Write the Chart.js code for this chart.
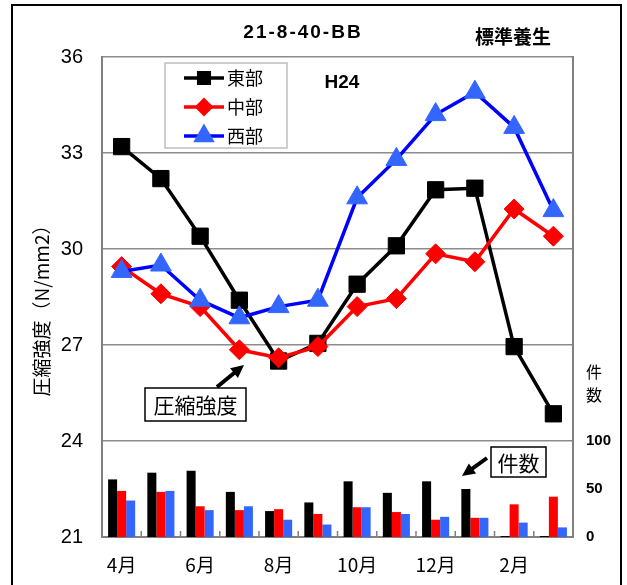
<!DOCTYPE html>
<html lang="ja">
<head>
<meta charset="UTF-8">
<title>21-8-40-BB 標準養生</title>
<script src="https://cdn.jsdelivr.net/npm/chart.js"></script>
<style>
  html, body { margin: 0; padding: 0; background: #fff; }
</style>
</head>
<body>
<canvas id="myChart" width="627" height="585"></canvas>
<script>
// 月別データ (H24)
const months = ['4月', '5月', '6月', '7月', '8月', '9月', '10月', '11月', '12月', '1月', '2月', '3月'];

// 圧縮強度 (N/mm2)
const eastStrength    = [33.2, 32.2, 30.4, 28.4, 26.5, 27.05, 28.9, 30.1, 31.85, 31.9, 26.95, 24.85];
const centralStrength = [29.45, 28.6, 28.2, 26.85, 26.6, 26.95, 28.2, 28.45, 29.85, 29.6, 31.25, 30.4];
const westStrength    = [29.3, 29.5, 28.4, 27.85, 28.2, 28.4, 31.6, 32.8, 34.2, 34.9, 33.8, 31.2];

// 件数
const eastCount    = [60, 67, 69, 47, 27, 36, 58, 46, 58, 50, 1, 1];
const centralCount = [48, 47, 32, 28, 29, 24, 31, 26, 18, 20, 34, 42];
const westCount    = [38, 48, 28, 32, 18, 13, 31, 24, 21, 20, 15, 10];

const strengthTicks = [21, 24, 27, 30, 33, 36];
const countTicks = [0, 50, 100];

const JP = '"Noto Sans CJK JP", "Noto Sans", sans-serif';
const LAT = '"Liberation Sans", Arial, sans-serif';

const BLACK = '#000000';
const RED = '#ff0000';
const BLUE_LINE = '#0000ff';
const BLUE_MARK = '#3366ff';

function arrow(ctx, x1, y1, x2, y2) {
    const ang = Math.atan2(y2 - y1, x2 - x1);
    const head = 11;
    ctx.beginPath();
    ctx.moveTo(x1, y1);
    ctx.lineTo(x2 - Math.cos(ang) * head * 0.8, y2 - Math.sin(ang) * head * 0.8);
    ctx.lineWidth = 4;
    ctx.strokeStyle = '#000';
    ctx.stroke();
    ctx.beginPath();
    ctx.moveTo(x2, y2);
    ctx.lineTo(x2 - Math.cos(ang - 0.45) * head * 1.3, y2 - Math.sin(ang - 0.45) * head * 1.3);
    ctx.lineTo(x2 - Math.cos(ang + 0.45) * head * 1.3, y2 - Math.sin(ang + 0.45) * head * 1.3);
    ctx.closePath();
    ctx.fillStyle = '#000';
    ctx.fill();
}

function labelBox(ctx, text, x, y, w, h) {
    ctx.fillStyle = '#fff';
    ctx.fillRect(x, y, w, h);
    ctx.strokeStyle = '#000';
    ctx.lineWidth = 1.5;
    ctx.strokeRect(x, y, w, h);
    ctx.fillStyle = '#000';
    ctx.textAlign = 'center';
    ctx.font = '21px ' + JP;
    ctx.fillText(text, x + w / 2, y + h / 2 + 1);
}

const decorations = {
    id: 'decorations',
    beforeDraw(chart) {
        const ctx = chart.ctx;
        ctx.save();
        ctx.fillStyle = '#fff';
        ctx.fillRect(0, 0, chart.width, chart.height);
        ctx.strokeStyle = '#000';
        ctx.lineWidth = 2;
        ctx.strokeRect(12, 5, 609, 640);
        ctx.restore();
    },
    afterDraw(chart) {
        const ctx = chart.ctx;
        const xs = chart.scales.x;
        const area = chart.chartArea;
        ctx.save();

        // 内向きの目盛り
        ctx.strokeStyle = '#808080';
        ctx.lineWidth = 1.5;
        for (let i = 1; i < months.length; i++) {
            const x = (xs.getPixelForValue(i - 1) + xs.getPixelForValue(i)) / 2;
            ctx.beginPath();
            ctx.moveTo(x, area.bottom);
            ctx.lineTo(x, area.bottom - 6);
            ctx.stroke();
        }

        // タイトル類
        ctx.fillStyle = '#000';
        ctx.textBaseline = 'middle';
        ctx.textAlign = 'center';
        ctx.font = 'bold 19px ' + LAT;
        ctx.letterSpacing = '2px';
        ctx.fillText('21-8-40-BB', 303, 33);
        ctx.letterSpacing = '0px';
        ctx.font = 'bold 19px ' + JP;
        ctx.fillText('標準養生', 513, 37);
        ctx.font = 'bold 19px ' + LAT;
        ctx.fillText('H24', 342, 83);

        // 縦軸タイトル
        ctx.save();
        ctx.translate(42, 306);
        ctx.rotate(-Math.PI / 2);
        ctx.font = '19px ' + JP;
        ctx.fillText('圧縮強度（N/mm2）', 0, 0);
        ctx.restore();

        // 右軸 件数
        ctx.font = '16px ' + JP;
        ctx.fillText('件', 594, 372);
        ctx.fillText('数', 594, 395);

        // 凡例
        ctx.fillStyle = '#fff';
        ctx.fillRect(165, 63, 122, 85);
        ctx.strokeStyle = '#bfbfbf';
        ctx.lineWidth = 1.5;
        ctx.strokeRect(165, 63, 122, 85);
        const items = [
            { label: '東部', color: BLACK, fill: BLACK, style: 'rect', r: 7.5, y: 78 },
            { label: '中部', color: RED, fill: RED, style: 'rectRot', r: 7, y: 107 },
            { label: '西部', color: BLUE_LINE, fill: BLUE_MARK, style: 'triangle', r: 9, y: 136 }
        ];
        items.forEach(it => {
            ctx.beginPath();
            ctx.moveTo(184, it.y);
            ctx.lineTo(224, it.y);
            ctx.strokeStyle = it.color;
            ctx.lineWidth = 3.5;
            ctx.stroke();
            ctx.fillStyle = it.fill;
            ctx.strokeStyle = it.fill;
            Chart.helpers.drawPoint(ctx, { pointStyle: it.style, radius: it.r, borderWidth: 1 }, 204, it.y);
            ctx.fillStyle = '#000';
            ctx.textAlign = 'left';
            ctx.font = '18px ' + JP;
            ctx.fillText(it.label, 227, it.y);
        });

        // 注記
        labelBox(ctx, '圧縮強度', 145, 388, 101, 33);
        arrow(ctx, 217, 387, 244, 365);
        labelBox(ctx, '件数', 491, 447, 55, 30);
        arrow(ctx, 487, 458, 462, 476);

        ctx.restore();
    }
};

const ctx = document.getElementById('myChart').getContext('2d');
const barCommon = {
    type: 'bar',
    yAxisID: 'y2',
    categoryPercentage: 0.69,
    barPercentage: 1.0,
    order: 10
};
const lineCommon = {
    type: 'line',
    yAxisID: 'y',
    borderWidth: 3.5,
    tension: 0,
    pointBorderWidth: 1
};

new Chart(ctx, {
    type: 'bar',
    data: {
        labels: months,
        datasets: [
            Object.assign({}, barCommon, { label: '東部件数', data: eastCount, backgroundColor: BLACK }),
            Object.assign({}, barCommon, { label: '中部件数', data: centralCount, backgroundColor: RED }),
            Object.assign({}, barCommon, { label: '西部件数', data: westCount, backgroundColor: BLUE_MARK }),
            Object.assign({}, lineCommon, {
                label: '東部', data: eastStrength, order: 3,
                borderColor: BLACK, backgroundColor: BLACK,
                pointStyle: 'rect', pointRadius: 11.5, pointBorderColor: BLACK
            }),
            Object.assign({}, lineCommon, {
                label: '中部', data: centralStrength, order: 2,
                borderColor: RED, backgroundColor: RED,
                pointStyle: 'rectRot', pointRadius: 10, pointBorderColor: RED
            }),
            Object.assign({}, lineCommon, {
                label: '西部', data: westStrength, order: 1,
                borderColor: BLUE_LINE, backgroundColor: BLUE_MARK,
                pointStyle: 'triangle', pointRadius: 12, pointBorderColor: BLUE_MARK
            })
        ]
    },
    options: {
        responsive: false,
        animation: false,
        layout: { padding: { left: 0, right: 0, top: 57, bottom: 0 } },
        plugins: {
            legend: { display: false },
            tooltip: { enabled: false }
        },
        scales: {
            x: {
                afterFit: s => { s.height = 48; },
                grid: { display: false },
                border: { display: true, color: '#808080', width: 2 },
                ticks: {
                    autoSkip: false,
                    maxRotation: 0,
                    padding: 8,
                    color: '#000',
                    font: { family: JP, size: 19 },
                    callback: (v, i) => (i % 2 === 0 ? months[i] : '')
                }
            },
            y: {
                position: 'left',
                min: 21,
                max: 36,
                afterFit: s => { s.width = 102; },
                afterBuildTicks: s => { s.ticks = strengthTicks.map(v => ({ value: v })); },
                grid: { color: '#8c8c8c', lineWidth: 1.5, drawTicks: false },
                border: { display: true, color: '#808080', width: 2 },
                ticks: {
                    padding: 19,
                    color: '#000',
                    font: { family: LAT, size: 20 }
                }
            },
            y2: {
                position: 'right',
                min: 0,
                max: 500,
                afterFit: s => { s.width = 54; },
                afterBuildTicks: s => { s.ticks = countTicks.map(v => ({ value: v })); },
                grid: { display: false, drawTicks: false },
                border: { display: true, color: '#808080', width: 2 },
                ticks: {
                    padding: 13,
                    color: '#000',
                    font: { family: LAT, size: 15, weight: 'bold' }
                }
            }
        }
    },
    plugins: [decorations]
});
</script>
</body>
</html>
